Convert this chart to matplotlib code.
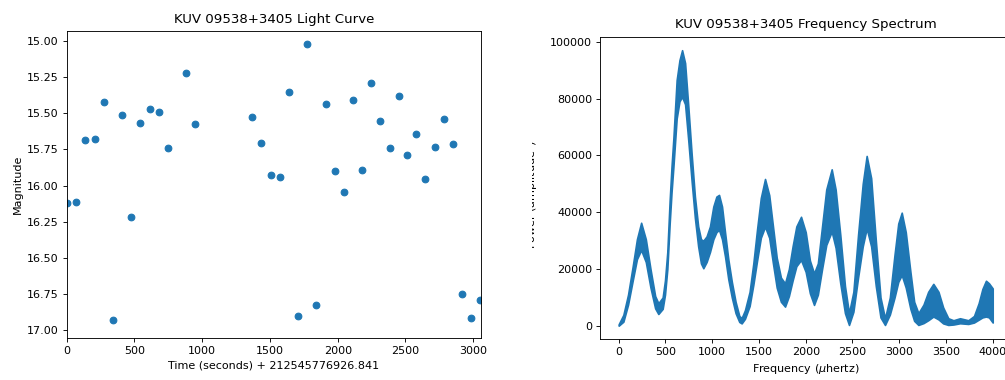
import matplotlib
matplotlib.use("Agg")
import matplotlib.pyplot as plt
from matplotlib.patches import Rectangle

# Light curve: time offset from first exposure (s) and magnitude
time_s = [0, 71, 138, 207, 273, 342, 408, 477, 543, 612, 679, 748, 878, 944,
          1370, 1436, 1505, 1571, 1640, 1707, 1775, 1842, 1911, 1977, 2046,
          2112, 2181, 2248, 2309, 2383, 2452, 2511, 2579, 2646, 2715, 2781,
          2850, 2916, 2985, 3049]
magnitude = [16.118, 16.113, 15.684, 15.679, 15.423, 16.928, 15.510, 16.217,
             15.568, 15.471, 15.492, 15.741, 15.222, 15.575, 15.522, 15.702,
             15.928, 15.940, 15.349, 16.901, 15.018, 16.824, 15.434, 15.898,
             16.044, 15.406, 15.891, 15.286, 15.552, 15.737, 15.379, 15.788,
             15.644, 15.956, 15.730, 15.540, 15.714, 16.748, 16.917, 16.790]
time_offset = "212545776926.841"

# Frequency spectrum: the power oscillates rapidly between a lower and an
# upper envelope; both envelopes are listed per frequency (micro-hertz)
freq_uhz = [0, 50, 100, 150, 195, 240, 290, 340, 390, 424, 470, 495, 520, 545,
            565, 585, 620, 650, 678, 710, 745, 780, 815, 850, 880, 905, 940,
            976, 1012, 1045, 1073, 1105, 1137, 1172, 1210, 1250, 1290, 1315,
            1350, 1400, 1440, 1480, 1520, 1565, 1610, 1650, 1690, 1735, 1779,
            1820, 1860, 1900, 1950, 2000, 2045, 2089, 2130, 2175, 2220, 2278,
            2320, 2370, 2420, 2463, 2510, 2560, 2610, 2652, 2700, 2750, 2800,
            2848, 2900, 2950, 2990, 3027, 3070, 3120, 3160, 3205, 3260, 3310,
            3365, 3420, 3470, 3525, 3580, 3650, 3739, 3800, 3850, 3890, 3928,
            3960, 4000]
power_upper = [600, 3900, 11000, 21000, 30500, 36300, 30500, 20000, 10500,
               8000, 10000, 16000, 26000, 44000, 56000, 66000, 86500, 93500,
               97000, 92500, 77000, 60500, 45500, 35000, 30500, 30000, 31500,
               35000, 42000, 45500, 46100, 42000, 33000, 23500, 15500, 8500,
               3500, 2800, 5500, 12000, 22000, 34000, 45000, 51700, 46000,
               35000, 24000, 17000, 15000, 20000, 28000, 35000, 38400, 33000,
               23000, 18500, 22000, 35000, 48000, 55100, 48000, 32000, 14000,
               4500, 12000, 32000, 50000, 59800, 52000, 30000, 10000, 2700,
               10000, 25000, 36000, 39850, 33000, 19000, 8500, 4500, 7500,
               12000, 14800, 12000, 6500, 2700, 2000, 2700, 2000, 3500, 8000,
               13000, 15900, 15000, 13200]
power_lower = [100, 1500, 7500, 16000, 23500, 26700, 22500, 13500, 6200, 4200,
               6000, 11000, 20000, 36000, 47000, 56000, 73000, 79000, 80600,
               78000, 65000, 51000, 38000, 28000, 22000, 20300, 22500, 26000,
               30500, 33000, 33800, 30500, 24500, 16500, 10000, 4500, 1400,
               900, 2500, 7000, 14500, 23000, 31000, 34900, 31000, 22000,
               13500, 8500, 6800, 10500, 16000, 21000, 23200, 19000, 11500,
               7400, 11000, 20000, 28500, 33200, 27500, 15000, 4500, 350,
               5000, 17000, 28000, 34300, 28000, 14000, 3000, 350, 4000, 10000,
               15500, 17900, 13500, 6000, 1800, 350, 1000, 2000, 3300, 2300,
               900, 350, 500, 940, 700, 1200, 2200, 3000, 3300, 3000, 1200]

W, H, DPI = 1005, 380, 80
fig = plt.figure(figsize=(W / DPI, H / DPI), dpi=DPI)
blue = "#1f77b4"

# Light curve panel
ax1 = fig.add_axes([66.7 / W, 1 - 338.3 / H, 414.0 / W, 307.6 / H])
ax1.scatter(time_s, magnitude, color=blue)
ax1.set_xlim(0, 3055)
ax1.set_ylim(17.058, 14.927)
ax1.set_xticks(range(0, 3001, 500))
ax1.set_yticks([15.00, 15.25, 15.50, 15.75, 16.00, 16.25, 16.50, 16.75, 17.00])
ax1.set_yticklabels([f"{v:.2f}" for v in ax1.get_yticks()])
ax1.set_xlabel(f"Time (seconds) + {time_offset}")
ax1.set_ylabel("Magnitude")
ax1.set_title("KUV 09538+3405 Light Curve", pad=7)

# Frequency spectrum panel
ax2 = fig.add_axes([600.0 / W, 1 - 339.3 / H, 411.4 / W, 302.6 / H])
ax2.fill_between(freq_uhz, power_lower, power_upper, facecolor=blue,
                 edgecolor=blue, linewidth=1.5)
ax2.set_xlim(-200, 4200)
ax2.set_ylim(-4700, 101750)
ax2.set_xticks(range(0, 4001, 500))
ax2.set_yticks(range(0, 100001, 20000))
ax2.set_xlabel(r"Frequency ($\mu$hertz)")
ax2.set_ylabel(r"Power (amplitude$^2$)")
ax2.yaxis.set_label_coords(-0.1435, 0.48)
ax2.set_title("KUV 09538+3405 Frequency Spectrum", pad=8)

# The spectrum panel is cut at its left edge, through its y label:
# a white band hides everything left of the cut in that strip
fig.add_artist(Rectangle((495.0 / W, 90.0 / H), (531.7 - 495.0) / W,
                         200.0 / H, transform=fig.transFigure,
                         facecolor="white", edgecolor="none", zorder=10))

fig.savefig("out.png", dpi=DPI)
